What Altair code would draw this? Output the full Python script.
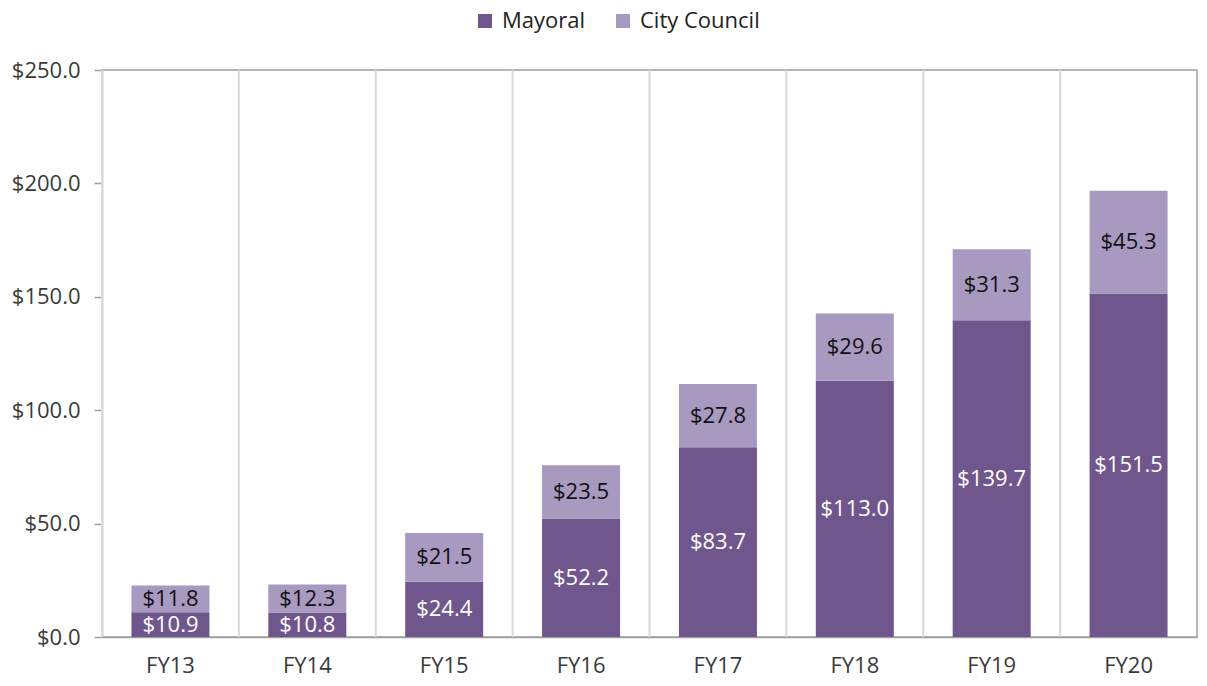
import altair as alt
import pandas as pd

years = ["FY13", "FY14", "FY15", "FY16", "FY17", "FY18", "FY19", "FY20"]
mayoral = [10.9, 10.8, 24.4, 52.2, 83.7, 113.0, 139.7, 151.5]
council = [11.8, 12.3, 21.5, 23.5, 27.8, 29.6, 31.3, 45.3]
series_names = ["Mayoral", "City Council"]
series_colors = ["#6f578e", "#a899c0"]

rows = []
for y, m, c in zip(years, mayoral, council):
    rows.append({"fy": y, "series": "Mayoral", "value": m, "ord": 0})
    rows.append({"fy": y, "series": "City Council", "value": c, "ord": 1})
df = pd.DataFrame(rows)
df_years = pd.DataFrame({"fy": years})

FONT = "Open Sans"
xscale = alt.Scale(paddingInner=0, paddingOuter=0)
yscale = alt.Scale(domain=[0, 250], nice=False, zero=True)

xenc = alt.X(
    "fy:N",
    sort=years,
    scale=xscale,
    axis=alt.Axis(title=None, labelAngle=0, ticks=False, grid=False,
                  bandPosition=0.5,
                  labelFontSize=22, labelFont=FONT, labelColor="#3a3a3a",
                  labelPadding=18, domainColor="#a0a0a0", domainWidth=1.5),
)

bars = alt.Chart(df).mark_bar(size=78).encode(
    x=xenc,
    y=alt.Y("value:Q", stack="zero",
            scale=yscale,
            axis=alt.Axis(title=None, values=[0, 50, 100, 150, 200, 250],
                          format="$.1f", grid=False, tickSize=8,
                          tickColor="#a0a0a0", tickWidth=1.5,
                          domainColor="#a0a0a0", domainWidth=1.5,
                          labelFontSize=22, labelFont=FONT,
                          labelColor="#3a3a3a", labelPadding=14)),
    color=alt.Color("series:N",
                    scale=alt.Scale(domain=series_names, range=series_colors),
                    legend=alt.Legend(title=None, orient="none",
                                      direction="horizontal",
                                      legendX=372, legendY=-60,
                                      symbolType="square", symbolSize=196,
                                      symbolStrokeWidth=0,
                                      labelFontSize=22, labelFont=FONT,
                                      labelColor="#222222",
                                      columnPadding=26, labelOffset=6)),
    order=alt.Order("ord:Q"),
)

rules = alt.Chart(df_years).mark_rule(color="#d9d9d9", strokeWidth=2).encode(
    x=alt.X("fy:N", sort=years, bandPosition=0, scale=xscale)
)

labels = alt.Chart(df).transform_stack(
    stack="value", groupby=["fy"], as_=["y0", "y1"],
    sort=[alt.SortField("ord", order="ascending")],
).transform_calculate(
    mid="(datum.y0 + datum.y1) / 2"
).mark_text(fontSize=22, font=FONT, baseline="middle").encode(
    x=alt.X("fy:N", sort=years, scale=xscale),
    y=alt.Y("mid:Q", scale=yscale),
    text=alt.Text("value:Q", format="$.1f"),
    color=alt.condition("datum.series == 'Mayoral'",
                        alt.value("white"), alt.value("#111111")),
)

chart = alt.layer(bars, rules, labels).properties(
    width=1095, height=567,
    autosize=alt.AutoSizeParams(type="none"),
    padding={"left": 94, "top": 62, "right": 2, "bottom": 41},
).configure_view(stroke="#a0a0a0", strokeWidth=1.5)

chart.save("out.html", embed_options={"renderer": "svg", "actions": False})
